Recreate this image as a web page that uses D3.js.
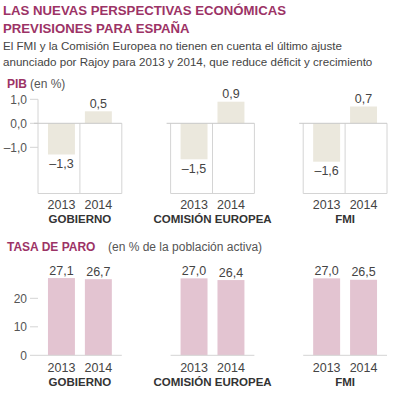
<!DOCTYPE html>
<html>
<head>
<meta charset="utf-8">
<script src="https://cdn.jsdelivr.net/npm/d3@7"></script>
<style>
  body { margin: 0; background: #fff; }
  svg { display: block; font-family: "Liberation Sans", Arial, sans-serif; }
</style>
</head>
<body>
<svg id="chart" width="414" height="398"></svg>
<script>
// data
const grupos = ['GOBIERNO', 'COMISIÓN EUROPEA', 'FMI']
const anios = ['2013', '2014']
const pib2013 = [-1.3, -1.5, -1.6]
const pib2014 = [0.5, 0.9, 0.7]
const paro2013 = [27.1, 27.0, 27.0]
const paro2014 = [26.7, 26.4, 26.5]
const pibTicks = [1, 0, -1]
const paroTicks = [0, 10, 20]

const titulo = ['LAS NUEVAS PERSPECTIVAS ECONÓMICAS', 'PREVISIONES PARA ESPAÑA']
const subtitulo = [
  'El FMI y la Comisión Europea no tienen en cuenta el último ajuste',
  'anunciado por Rajoy para 2013 y 2014, que reduce déficit y crecimiento'
]

// colors
const granate = '#9c3366'
const beige = '#ebe8dd'
const rosa = '#e3c4d1'
const linea = '#d4d4d4'

const es = d3.formatLocale({ decimal: ',', thousands: '.', grouping: [3], currency: ['', '€'], minus: '\u2013' })
const fmt1 = es.format('.1f')
const fmt0 = es.format('d')

const svg = d3.select('#chart')

// header
svg.append('g')
  .selectAll('text')
  .data(titulo)
  .enter()
  .append('text')
  .attr('x', 3)
  .attr('y', (d, i) => 15 + i * 18.3)
  .attr('fill', granate)
  .style('font-size', '13.2px')
  .style('font-weight', 'bold')
  .text(d => d)

svg.append('g')
  .selectAll('text')
  .data(subtitulo)
  .enter()
  .append('text')
  .attr('x', 3)
  .attr('y', (d, i) => 50 + i * 16)
  .attr('fill', '#444')
  .style('font-size', '11.6px')
  .text(d => d)

// scales shared by both panels
const x = d3.scaleBand()
  .domain(grupos)
  .range([38, 387])
  .paddingInner(0.368)
const xi = d3.scaleBand()
  .domain(anios)
  .range([0, x.bandwidth()])
  .padding(0.27)

const panel = (opts) => {
  const { y, serie2013, serie2014, ticks, tickFormat, color, label, sub, subX, labelY, yearY, box, axisLine } = opts
  const g = svg.append('g')

  // panel heading
  const h = g.append('text')
    .attr('x', 7)
    .attr('y', labelY)
    .style('font-size', '12px')
  h.append('tspan').attr('fill', granate).style('font-weight', 'bold').text(label)
  h.append('tspan').attr('x', subX).attr('fill', '#555').text(sub)

  const [yMin] = y.domain()

  // y ticks
  g.selectAll('.tick-line')
    .data(ticks)
    .enter()
    .append('line')
    .attr('x1', 30)
    .attr('x2', x.range()[0])
    .attr('y1', d => y(d))
    .attr('y2', d => y(d))
    .attr('stroke', linea)
  g.selectAll('.tick-label')
    .data(ticks)
    .enter()
    .append('text')
    .attr('x', 27)
    .attr('y', d => y(d) + 4.3)
    .attr('text-anchor', 'end')
    .attr('fill', '#555')
    .style('font-size', '12px')
    .text(tickFormat)

  if (axisLine)
    g.append('line')
      .attr('x1', x.range()[0])
      .attr('x2', x.range()[0])
      .attr('y1', y(ticks[0]))
      .attr('y2', y(0))
      .attr('stroke', linea)

  const rows = grupos.map((k, i) => ({ grupo: k, valores: [serie2013[i], serie2014[i]] }))
  const grp = g.selectAll('.grupo')
    .data(rows)
    .enter()
    .append('g')
    .attr('transform', d => `translate(${x(d.grupo)},0)`)

  // frame
  if (box) {
    grp.append('path')
      .attr('d', `M0,${y(0)}V${y(yMin)}H${x.bandwidth()}V${y(0)}M${x.bandwidth() / 2},${y(0)}V${y(yMin)}`)
      .attr('fill', 'none')
      .attr('stroke', linea)
  }

  const cells = grp.selectAll('.barra')
    .data(d => d.valores.map((v, i) => ({ anio: anios[i], v })))
    .enter()

  cells.append('rect')
    .attr('x', d => xi(d.anio))
    .attr('width', xi.bandwidth())
    .attr('y', d => y(Math.max(0, d.v)))
    .attr('height', d => Math.abs(y(d.v) - y(0)))
    .attr('fill', color)

  cells.append('text')
    .attr('x', d => xi(d.anio) + xi.bandwidth() / 2)
    .attr('y', d => d.v < 0 ? y(d.v) + 13.5 : y(d.v) - 3.5)
    .attr('text-anchor', 'middle')
    .attr('fill', '#444')
    .style('font-size', '12.5px')
    .text(d => fmt1(d.v))

  // zero line
  grp.append('line')
    .attr('x1', box ? -4 : 0)
    .attr('x2', x.bandwidth())
    .attr('y1', y(0))
    .attr('y2', y(0))
    .attr('stroke', box ? '#c8c8c8' : linea)

  // year labels
  grp.selectAll('.anio')
    .data(anios)
    .enter()
    .append('text')
    .attr('x', d => xi(d) + xi.bandwidth() / 2)
    .attr('y', yearY)
    .attr('text-anchor', 'middle')
    .attr('fill', '#444')
    .style('font-size', '12.5px')
    .text(d => d)

  grp.append('text')
    .attr('x', x.bandwidth() / 2)
    .attr('y', yearY + 14)
    .attr('text-anchor', 'middle')
    .attr('fill', '#333')
    .style('font-size', '11.5px')
    .style('font-weight', 'bold')
    .text(d => d.grupo)
}

// PIB
panel({
  y: d3.scaleLinear().domain([-2.925, 1]).range([193.5, 99.3]),
  serie2013: pib2013,
  serie2014: pib2014,
  ticks: pibTicks,
  tickFormat: fmt1,
  color: beige,
  label: 'PIB',
  sub: '(en %)',
  subX: 30,
  labelY: 88,
  yearY: 208.5,
  box: true,
  axisLine: true
})

// Tasa de paro
panel({
  y: d3.scaleLinear().domain([0, 20]).range([355.3, 298.3]),
  serie2013: paro2013,
  serie2014: paro2014,
  ticks: paroTicks,
  tickFormat: fmt0,
  color: rosa,
  label: 'TASA DE PARO',
  sub: '(en % de la población activa)',
  subX: 108,
  labelY: 251,
  yearY: 372,
  box: false,
  axisLine: false
})
</script>
</body>
</html>
